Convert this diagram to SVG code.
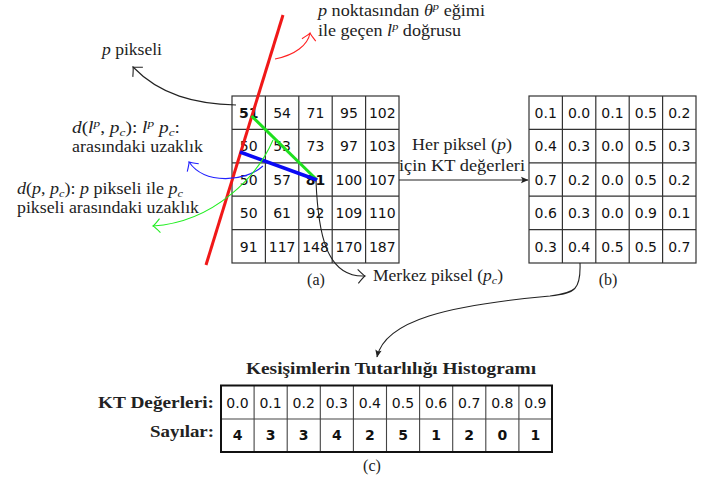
<svg xmlns="http://www.w3.org/2000/svg" width="716" height="481" viewBox="0 0 716 481">
<style>
.bg{fill:#fff}
.cell{fill:#fff;stroke:#333;stroke-width:1.2}
.num{font-family:"DejaVu Sans",sans-serif;font-size:14px;fill:#111;text-anchor:middle}
.bold{font-weight:bold}
.lbl{font-family:"Liberation Serif","DejaVu Serif",serif;font-size:16px;fill:#222}
.it{font-style:italic}
.conn{fill:none;stroke-width:1.1}
</style>
<defs>
<marker id="ak" markerUnits="userSpaceOnUse" viewBox="-10 -8 12 16" markerWidth="12" markerHeight="16" refX="0" refY="0" orient="auto"><path d="M-7,-7 C-3,-2.5 -1,-0.5 0,0 C-1,0.5 -3,2.5 -7,7" fill="none" stroke="#222" stroke-width="1.1"/></marker>
<marker id="ar" markerUnits="userSpaceOnUse" viewBox="-10 -8 12 16" markerWidth="12" markerHeight="16" refX="0" refY="0" orient="auto"><path d="M-7,-7 C-3,-2.5 -1,-0.5 0,0 C-1,0.5 -3,2.5 -7,7" fill="none" stroke="#f22" stroke-width="1.1"/></marker>
<marker id="ab" markerUnits="userSpaceOnUse" viewBox="-10 -8 12 16" markerWidth="12" markerHeight="16" refX="0" refY="0" orient="auto"><path d="M-7,-7 C-3,-2.5 -1,-0.5 0,0 C-1,0.5 -3,2.5 -7,7" fill="none" stroke="#22f" stroke-width="1.1"/></marker>
<marker id="ag" markerUnits="userSpaceOnUse" viewBox="-10 -8 12 16" markerWidth="12" markerHeight="16" refX="0" refY="0" orient="auto"><path d="M-7,-7 C-3,-2.5 -1,-0.5 0,0 C-1,0.5 -3,2.5 -7,7" fill="none" stroke="#2e2" stroke-width="1.1"/></marker>
<marker id="af" markerUnits="userSpaceOnUse" viewBox="-9 -5 10 10" markerWidth="10" markerHeight="10" refX="0" refY="0" orient="auto"><path d="M0.5,0 L-7,-3.2 L-5.5,0 L-7,3.2 z" fill="#222"/></marker>
</defs>
<rect class="bg" width="716" height="481"/>

<g id="grid-a">
<rect class="cell" x="232" y="96" width="167" height="167"/>
<path d="M265.4,96V263M298.8,96V263M332.2,96V263M365.6,96V263M232,129.4H399M232,162.8H399M232,196.2H399M232,229.6H399" stroke="#333" stroke-width="1.2" fill="none"/>
<text class="num" y="118"><tspan x="248.7" class="bold">51</tspan><tspan x="282.1">54</tspan><tspan x="315.5">71</tspan><tspan x="348.9">95</tspan><tspan x="382.3">102</tspan></text>
<text class="num" y="151.4"><tspan x="248.7">50</tspan><tspan x="282.1">53</tspan><tspan x="315.5">73</tspan><tspan x="348.9">97</tspan><tspan x="382.3">103</tspan></text>
<text class="num" y="184.8"><tspan x="248.7">50</tspan><tspan x="282.1">57</tspan><tspan x="315.5" class="bold">81</tspan><tspan x="348.9">100</tspan><tspan x="382.3">107</tspan></text>
<text class="num" y="218.2"><tspan x="248.7">50</tspan><tspan x="282.1">61</tspan><tspan x="315.5">92</tspan><tspan x="348.9">109</tspan><tspan x="382.3">110</tspan></text>
<text class="num" y="251.6"><tspan x="248.7">91</tspan><tspan x="282.1">117</tspan><tspan x="315.5">148</tspan><tspan x="348.9">170</tspan><tspan x="382.3">187</tspan></text>
<text class="lbl" x="316" y="285" text-anchor="middle">(a)</text>
</g>

<g id="grid-b">
<rect class="cell" x="529" y="96" width="167" height="167"/>
<path d="M562.4,96V263M595.8,96V263M629.2,96V263M662.6,96V263M529,129.4H696M529,162.8H696M529,196.2H696M529,229.6H696" stroke="#333" stroke-width="1.2" fill="none"/>
<text class="num" y="118"><tspan x="545.7">0.1</tspan><tspan x="579.1">0.0</tspan><tspan x="612.5">0.1</tspan><tspan x="645.9">0.5</tspan><tspan x="679.3">0.2</tspan></text>
<text class="num" y="151.4"><tspan x="545.7">0.4</tspan><tspan x="579.1">0.3</tspan><tspan x="612.5">0.0</tspan><tspan x="645.9">0.5</tspan><tspan x="679.3">0.3</tspan></text>
<text class="num" y="184.8"><tspan x="545.7">0.7</tspan><tspan x="579.1">0.2</tspan><tspan x="612.5">0.0</tspan><tspan x="645.9">0.5</tspan><tspan x="679.3">0.2</tspan></text>
<text class="num" y="218.2"><tspan x="545.7">0.6</tspan><tspan x="579.1">0.3</tspan><tspan x="612.5">0.0</tspan><tspan x="645.9">0.9</tspan><tspan x="679.3">0.1</tspan></text>
<text class="num" y="251.6"><tspan x="545.7">0.3</tspan><tspan x="579.1">0.4</tspan><tspan x="612.5">0.5</tspan><tspan x="645.9">0.5</tspan><tspan x="679.3">0.7</tspan></text>
<text class="lbl" x="608" y="285" text-anchor="middle">(b)</text>
</g>

<g id="histogram">
<text class="lbl bold" x="246" y="374" textLength="290" lengthAdjust="spacingAndGlyphs">Kesişimlerin Tutarlılığı Histogramı</text>
<text class="lbl bold" x="98" y="408" textLength="116" lengthAdjust="spacingAndGlyphs">KT Değerleri:</text>
<text class="lbl bold" x="150" y="437" textLength="64" lengthAdjust="spacingAndGlyphs">Sayılar:</text>
<path d="M254.1,385.5V452M287.2,385.5V452M320.3,385.5V452M353.4,385.5V452M386.5,385.5V452M419.6,385.5V452M452.7,385.5V452M485.8,385.5V452M518.9,385.5V452M221,419H552" stroke="#444" stroke-width="1.1" fill="none"/>
<rect x="221" y="385.5" width="331" height="66.5" fill="none" stroke="#111" stroke-width="2"/>
<text class="num" y="408"><tspan x="237.5">0.0</tspan><tspan x="270.6">0.1</tspan><tspan x="303.7">0.2</tspan><tspan x="336.8">0.3</tspan><tspan x="369.9">0.4</tspan><tspan x="403">0.5</tspan><tspan x="436.1">0.6</tspan><tspan x="469.2">0.7</tspan><tspan x="502.3">0.8</tspan><tspan x="535.4">0.9</tspan></text>
<text class="num bold" y="440"><tspan x="237.5">4</tspan><tspan x="270.6">3</tspan><tspan x="303.7">3</tspan><tspan x="336.8">4</tspan><tspan x="369.9">2</tspan><tspan x="403">5</tspan><tspan x="436.1">1</tspan><tspan x="469.2">2</tspan><tspan x="502.3">0</tspan><tspan x="535.4">1</tspan></text>
<text class="lbl" x="372" y="471" text-anchor="middle">(c)</text>
</g>

<g id="lines">
<line x1="283" y1="15" x2="206" y2="265" stroke="#f01818" stroke-width="3"/>
<line x1="251.5" y1="116" x2="317" y2="180" stroke="#1ee01e" stroke-width="3"/>
<line x1="240" y1="152" x2="317" y2="180" stroke="#0a0af5" stroke-width="3.5"/>
</g>

<g id="label-p">
<text class="lbl" x="102" y="55" textLength="60" lengthAdjust="spacingAndGlyphs"><tspan class="it">p</tspan> pikseli</text>
</g>
<g id="label-line">
<text class="lbl" x="318" y="16" textLength="167" lengthAdjust="spacingAndGlyphs"><tspan class="it">p</tspan> noktasından <tspan class="it">θ</tspan><tspan class="it" font-size="11" dy="-6">p</tspan><tspan dy="6"> eğimi</tspan></text>
<text class="lbl" x="318" y="36" textLength="143" lengthAdjust="spacingAndGlyphs">ile geçen <tspan class="it">l</tspan><tspan class="it" font-size="11" dy="-6">p</tspan><tspan dy="6"> doğrusu</tspan></text>
</g>
<g id="label-dl">
<text class="lbl" x="72" y="133" textLength="108" lengthAdjust="spacingAndGlyphs"><tspan class="it">d</tspan>(<tspan class="it">l</tspan><tspan class="it" font-size="11" dy="-6">p</tspan><tspan dy="6">, </tspan><tspan class="it">p</tspan><tspan class="it" font-size="11" dy="3">c</tspan><tspan dy="-3">):  </tspan><tspan class="it">l</tspan><tspan class="it" font-size="11" dy="-6">p</tspan><tspan dy="6"> </tspan><tspan class="it">p</tspan><tspan class="it" font-size="11" dy="3">c</tspan><tspan dy="-3">:</tspan></text>
<text class="lbl" x="72" y="152" textLength="131" lengthAdjust="spacingAndGlyphs">arasındaki uzaklık</text>
</g>
<g id="label-dp">
<text class="lbl" x="17" y="194" textLength="166" lengthAdjust="spacingAndGlyphs"><tspan class="it">d</tspan>(<tspan class="it">p</tspan>, <tspan class="it">p</tspan><tspan class="it" font-size="11" dy="3">c</tspan><tspan dy="-3">):  </tspan><tspan class="it">p</tspan> pikseli ile <tspan class="it">p</tspan><tspan class="it" font-size="11" dy="3">c</tspan></text>
<text class="lbl" x="17" y="213" textLength="182" lengthAdjust="spacingAndGlyphs">pikseli arasındaki uzaklık</text>
</g>
<g id="label-center">
<text class="lbl" x="373" y="281" textLength="130" lengthAdjust="spacingAndGlyphs">Merkez piksel (<tspan class="it">p</tspan><tspan class="it" font-size="11" dy="3">c</tspan><tspan dy="-3">)</tspan></text>
</g>
<g id="label-kt">
<text class="lbl" x="412" y="150" textLength="100" lengthAdjust="spacingAndGlyphs">Her piksel (<tspan class="it">p</tspan>)</text>
<text class="lbl" x="399" y="171" textLength="126" lengthAdjust="spacingAndGlyphs">için KT değerleri</text>
</g>

<g id="connectors">
<path class="conn" d="M236,105 C195,104 160,95 133,67" stroke="#222" marker-end="url(#ak)"/>
<path class="conn" d="M275,59 C295,55 308,45 310,33" stroke="#f22" marker-end="url(#ar)"/>
<path class="conn" d="M263,166 C245,182 205,185 189,162" stroke="#22f" marker-end="url(#ab)"/>
<path class="conn" d="M273,140 C258,175 215,222 153,226" stroke="#2e2" marker-end="url(#ag)"/>
<path class="conn" d="M316,181 C318,230 325,278 365,276" stroke="#222" marker-end="url(#ak)"/>
<path class="conn" d="M399,180 H528" stroke="#222" marker-end="url(#af)"/>
<path class="conn" d="M580,263 C581,290 575,293 550,296 C450,305 385,320 377,357" stroke="#222" marker-end="url(#af)"/>
</g>
</svg>
